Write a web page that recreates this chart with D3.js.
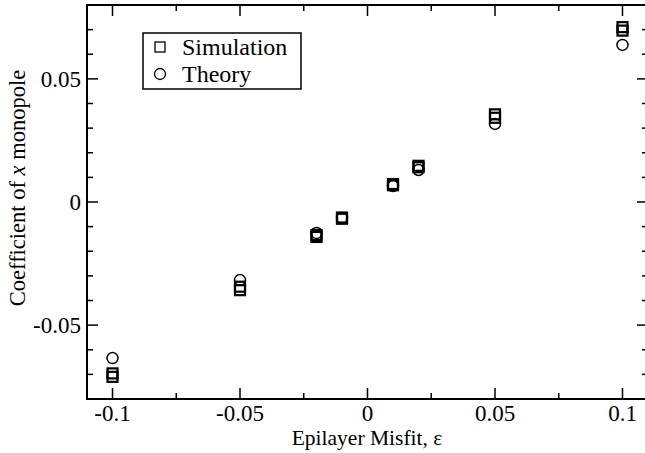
<!DOCTYPE html>
<html>
<head>
    <script src="https://d3js.org/d3.v7.min.js"></script>
    <style>
        body { margin: 0; background: #fff; }
        svg text { font-family: "Liberation Serif", "Times New Roman", serif; fill: #000; }
    </style>
</head>
<body>
    <div id="chart"></div>
    <script>
        // misfit values (x)
        const misfit = [-0.1, -0.05, -0.02, -0.01, 0.01, 0.02, 0.05, 0.1];
        // two simulation runs per misfit, drawn as open squares
        const simulationA = [-0.0696, -0.0344, -0.0134, -0.0063, 0.0073, 0.0147, 0.0356, 0.0710];
        const simulationB = [-0.0710, -0.0358, -0.0142, -0.0068, 0.0068, 0.0141, 0.0342, 0.0696];
        const theory = [-0.0634, -0.0317, -0.0126, -0.0065, 0.0065, 0.0130, 0.0317, 0.0638];

        const xMajor = [-0.1, -0.05, 0, 0.05, 0.1];
        const xMinor = [-0.075, -0.025, 0.025, 0.075];
        const yMajor = [-0.05, 0, 0.05];
        const yMinor = [-0.07, -0.06, -0.04, -0.03, -0.02, -0.01, 0.01, 0.02, 0.03, 0.04, 0.06, 0.07];

        const W = 645, H = 453;
        const margin = { top: 5, left: 87 };
        const width = 561, height = 394;

        const svg = d3.select('#chart').append('svg')
            .attr('width', W).attr('height', H);

        const g = svg.append('g')
            .attr('transform', `translate(${margin.left},${margin.top})`);

        const x = d3.scaleLinear().domain([-0.11, 0.11]).range([0, width]);
        const y = d3.scaleLinear().domain([-0.08, 0.08]).range([height, 0]);

        const fmt = d => d === 0 ? '0' : String(d);

        // ticks on all four sides, pointing inward
        function ticks(vals, len, axis) {
            vals.forEach(v => {
                if (axis === 'x') {
                    g.append('line').attr('x1', x(v)).attr('x2', x(v)).attr('y1', height).attr('y2', height - len)
                        .attr('stroke', '#000').attr('stroke-width', 1.5);
                    g.append('line').attr('x1', x(v)).attr('x2', x(v)).attr('y1', 0).attr('y2', len)
                        .attr('stroke', '#000').attr('stroke-width', 1.5);
                } else {
                    g.append('line').attr('y1', y(v)).attr('y2', y(v)).attr('x1', 0).attr('x2', len)
                        .attr('stroke', '#000').attr('stroke-width', 1.5);
                    g.append('line').attr('y1', y(v)).attr('y2', y(v)).attr('x1', width).attr('x2', width - len)
                        .attr('stroke', '#000').attr('stroke-width', 1.5);
                }
            });
        }
        ticks(xMajor, 11, 'x');
        ticks(xMinor, 6, 'x');
        ticks(yMajor, 11, 'y');
        ticks(yMinor, 6, 'y');

        g.append('rect').attr('width', width).attr('height', height)
            .attr('fill', 'none').attr('stroke', '#000').attr('stroke-width', 2);

        g.selectAll('.xlab').data(xMajor).enter().append('text')
            .attr('x', d => x(d)).attr('y', height + 22)
            .attr('text-anchor', 'middle').style('font-size', '23px')
            .text(fmt);

        g.selectAll('.ylab').data(yMajor).enter().append('text')
            .attr('x', -6).attr('y', d => y(d) + 8)
            .attr('text-anchor', 'end').style('font-size', '23px')
            .text(fmt);

        // markers
        const sims = [simulationA, simulationB];
        sims.forEach(s => {
            g.selectAll(null).data(misfit).enter().append('rect')
                .attr('x', d => x(d) - 5).attr('y', (d, i) => y(s[i]) - 5)
                .attr('width', 10).attr('height', 10)
                .attr('fill', 'none').attr('stroke', '#000').attr('stroke-width', 2.2);
        });
        g.selectAll('.theory').data(misfit).enter().append('circle')
            .attr('cx', d => x(d)).attr('cy', (d, i) => y(theory[i]))
            .attr('r', 5.5)
            .attr('fill', 'none').attr('stroke', '#000').attr('stroke-width', 1.5);

        // legend
        const lg = svg.append('g');
        lg.append('rect').attr('x', 143).attr('y', 33).attr('width', 158).attr('height', 56)
            .attr('fill', '#fff').attr('stroke', '#000').attr('stroke-width', 1.5);
        lg.append('rect').attr('x', 155).attr('y', 42).attr('width', 10).attr('height', 10)
            .attr('fill', 'none').attr('stroke', '#000').attr('stroke-width', 1.3);
        lg.append('circle').attr('cx', 160).attr('cy', 74).attr('r', 5.5)
            .attr('fill', 'none').attr('stroke', '#000').attr('stroke-width', 1.3);
        lg.append('text').attr('x', 182).attr('y', 55).style('font-size', '24px').text('Simulation');
        lg.append('text').attr('x', 182).attr('y', 82).style('font-size', '24px').text('Theory');

        // axis titles
        svg.append('text').attr('x', 367).attr('y', 445)
            .attr('text-anchor', 'middle').style('font-size', '21.5px')
            .text('Epilayer Misfit, ε');

        const yt = svg.append('text')
            .attr('transform', 'translate(25,188) rotate(-90)')
            .attr('text-anchor', 'middle').style('font-size', '22.5px');
        yt.append('tspan').text('Coefficient of ');
        yt.append('tspan').style('font-style', 'italic').text('x');
        yt.append('tspan').text(' monopole');
    </script>
</body>
</html>
